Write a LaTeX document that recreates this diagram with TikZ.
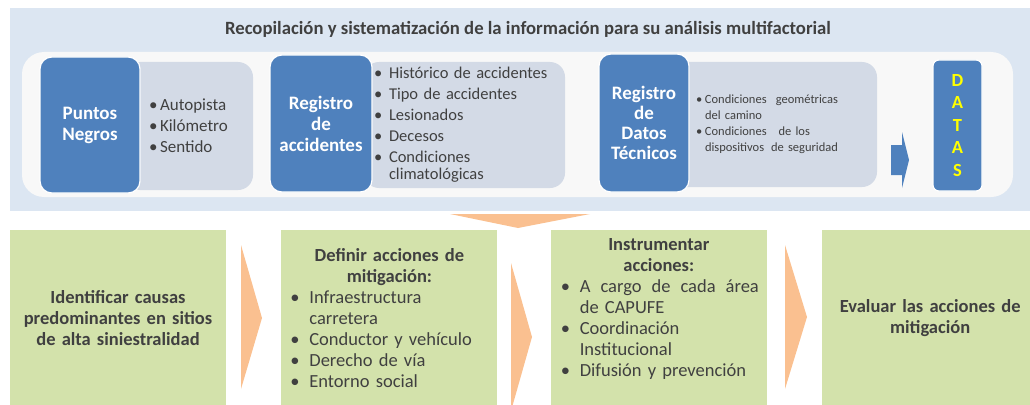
\documentclass[tikz,border=0pt]{standalone}
\usepackage{fontspec}
\setmainfont{Carlito}
\usepackage{xcolor}
\usetikzlibrary{positioning}

\definecolor{fondo}{HTML}{DCE6F2}
\definecolor{blanco}{HTML}{F8F8F8}
\definecolor{azul}{HTML}{4F81BD}
\definecolor{gris}{HTML}{D3DAE6}
\definecolor{verde}{HTML}{D3E2AB}
\definecolor{naranja}{HTML}{FAC090}
\definecolor{texto}{HTML}{404040}
\definecolor{amarillo}{HTML}{FFFF00}

\newcommand{\vin}[1]{\makebox[#1][l]{\textbullet}}
\newcommand{\centrada}[1]{\makebox[\linewidth]{#1}}
\hyphenpenalty=10000

\begin{document}
\begin{tikzpicture}[
    x=1pt, y=-1pt,
    bloque/.style={draw=white, line width=1.2pt, fill=azul, rounded corners=12pt, align=center, inner sep=2pt, text=white, font=\fontsize{19}{21}\selectfont\bfseries},
    lista/.style={fill=gris, rounded corners=15pt, align=left, inner ysep=0pt, text=texto, font=\fontsize{16.5}{17}\selectfont},
    paso/.style={fill=verde, minimum width=216pt, minimum height=176pt, inner ysep=0pt, align=left, text=texto, font=\fontsize{18.5}{21}\selectfont},
    chevron/.style={fill=naranja},
]
    \useasboundingbox (0,0) rectangle (1030,404);
    \clip (0,0) rectangle (1030,404);
    % parte superior
    \fill[fondo] (10,8) rectangle (1040,211);
    \fill[blanco, rounded corners=22pt] (22,52) rectangle (1013,197);
    \node[text=texto, font=\fontsize{18.7}{21}\selectfont\bfseries] (titulo) at (528,29) {Recopilación y sistematización de la información para su análisis multifactorial};
    \node[lista, minimum width=128pt, minimum height=128pt, text width=80pt, inner xsep=24pt, font=\fontsize{17}{17}\selectfont] (g1) at (189,126)
        {\vin{11pt}Autopista\\[4pt]\vin{11pt}Kilómetro\\[4pt]\vin{11pt}Sentido};
    \node[lista, minimum width=201pt, minimum height=126pt, text width=181pt, inner xsep=10pt] (g2) at (464.5,125)
        {\vin{15pt}Histórico de accidentes\\[4pt]\vin{15pt}Tipo de accidentes\\[4pt]\vin{15pt}Lesionados\\[4pt]\vin{15pt}Decesos\\[4pt]\vin{15pt}Condiciones\\\hspace*{15pt}climatológicas};
    \node[lista, minimum width=212pt, minimum height=125pt, text width=150pt, inner xsep=31pt, font=\fontsize{12.5}{16}\selectfont] (g3) at (771,124.5)
        {\vin{9pt}\hbox to 133pt{Condiciones\hfill geométricas}\\\hspace*{9pt}del camino\\\vin{9pt}Condiciones\hspace{12pt}de los\\\hspace*{9pt}\hbox to 133pt{dispositivos\hfill de seguridad}};
    \node[bloque, minimum width=100pt, minimum height=136pt] (b1) at (90,125) {Puntos\\Negros};
    \node[bloque, minimum width=102pt, minimum height=137pt] (b2) at (321,123.5) {Registro\\de\\accidentes};
    \node[bloque, minimum width=90pt, minimum height=138pt, font=\fontsize{19}{20}\selectfont\bfseries] (b3) at (644,123) {Registro\\de\\Datos\\Técnicos};
    \node[bloque, rounded corners=6pt, minimum width=49pt, minimum height=131pt, text=amarillo, font=\fontsize{18.5}{22.5}\selectfont\bfseries] (datas) at (957.5,125.5) {D\\A\\T\\A\\S};
    \fill[azul] (891,145) -- (902,145) -- (902,132) -- (909,160) -- (902,188) -- (902,175) -- (891,175) -- cycle;
    \fill[naranja] (450,214) -- (590,214) -- (518,228) -- cycle;
    % pasos
    \node[paso, text width=200pt, inner xsep=8pt, align=center, font=\fontsize{18.5}{21}\selectfont\bfseries] (v1) at (118,318)
        {Identificar causas\\predominantes en sitios\\de alta siniestralidad};
    \node[paso, text width=198pt, inner xsep=9pt, right=55pt of v1] (v2)
        {\centrada{\bfseries Definir acciones de}\\\centrada{\bfseries mitigación:}\\\vin{19pt}Infraestructura\\\hspace*{19pt}carretera\\\vin{19pt}Conductor y vehículo\\\vin{19pt}Derecho de vía\\\vin{19pt}Entorno social};
    \node[paso, text width=196pt, inner xsep=10pt, right=53pt of v2] (v3)
        {\centrada{\bfseries Instrumentar}\\\centrada{\bfseries acciones:}\\\vin{19pt}\hbox to 179pt{A\hfill cargo\hfill de\hfill cada\hfill área}\\\hspace*{19pt}de CAPUFE\\\vin{19pt}Coordinación\\\hspace*{19pt}Institucional\\\vin{19pt}Difusión y prevención\\\mbox{}};
    \node[paso, text width=200pt, inner xsep=8pt, align=center, font=\fontsize{18.5}{21}\selectfont\bfseries, right=55pt of v3] (v4)
        {Evaluar las acciones de\\mitigación};
    \fill[naranja] (241,245) -- (262,318) -- (241,389) -- cycle;
    \fill[naranja] (511,263) -- (532,337) -- (511,411) -- cycle;
    \fill[naranja] (785,245) -- (807,317) -- (785,389) -- cycle;
\end{tikzpicture}
\end{document}
